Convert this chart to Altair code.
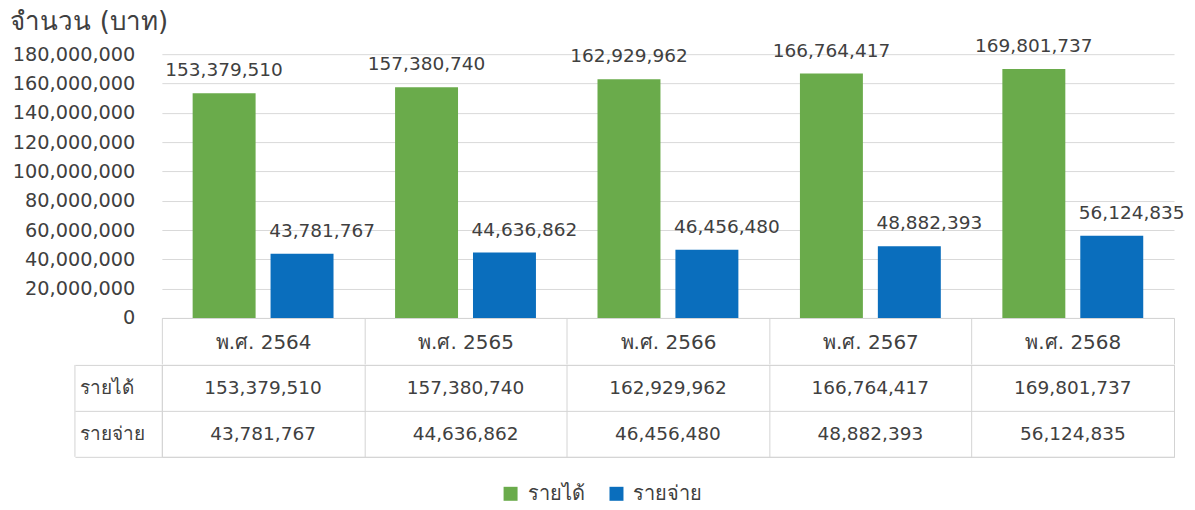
import altair as alt
import pandas as pd

years = ["พ.ศ. 2564", "พ.ศ. 2565", "พ.ศ. 2566", "พ.ศ. 2567", "พ.ศ. 2568"]
series = ["รายได้", "รายจ่าย"]
income = [153379510, 157380740, 162929962, 166764417, 169801737]
expense = [43781767, 44636862, 46456480, 48882393, 56124835]
y_ticks = [0, 20000000, 40000000, 60000000, 80000000, 100000000,
           120000000, 140000000, 160000000, 180000000]
colors = ["#6AAB4B", "#0A6EBD"]

rows = []
for yr, a, b in zip(years, income, expense):
    rows.append({"year": yr, "series": series[0], "value": a})
    rows.append({"year": yr, "series": series[1], "value": b})
df = pd.DataFrame(rows)

FONT = "DejaVu Sans"
TXT = "#404040"
LINE = "#d4d4d4"

x_enc = alt.X("year:N", sort=years,
              scale=alt.Scale(paddingInner=0, paddingOuter=0),
              axis=alt.Axis(title=None, labelAngle=0, tickBand="extent",
                            tickSize=46, labelPadding=-21,
                            labelBaseline="middle", labelFontSize=20,
                            labelColor=TXT, tickColor=LINE,
                            domainColor=LINE, grid=False))
xo_enc = alt.XOffset("series:N", sort=series,
                     scale=alt.Scale(paddingInner=0.192, paddingOuter=0.395))
y_enc = alt.Y("value:Q", scale=alt.Scale(domain=[0, 180000000]),
              axis=alt.Axis(values=y_ticks, format=",.0f", ticks=False,
                            tickSize=0, domain=False, labelPadding=27,
                            labelFontSize=19.3, labelColor=TXT,
                            gridColor="#d9d9d9",
                            title="จำนวน (บาท)", titleAngle=0,
                            titleAlign="left", titleBaseline="middle",
                            titleX=-152, titleY=-33, titleFontSize=26,
                            titleFontWeight="normal", titleColor=TXT))

base = alt.Chart(df)
bars = base.mark_bar().encode(
    x=x_enc, xOffset=xo_enc, y=y_enc,
    color=alt.Color("series:N", sort=series,
                    scale=alt.Scale(domain=series, range=colors),
                    legend=alt.Legend(title=None, orient="none",
                                      direction="horizontal",
                                      legendX=339, legendY=430,
                                      symbolType="square", symbolSize=196,
                                      symbolStrokeWidth=0, labelFontSize=20,
                                      labelColor=TXT, labelOffset=7,
                                      columnPadding=22))
)
lab_inc = base.transform_filter(alt.datum.series == series[0]).mark_text(
    baseline="middle", dy=-23, fontSize=18.5, color=TXT).encode(
    x=x_enc, xOffset=xo_enc, y=y_enc, text=alt.Text("value:Q", format=",.0f"))
lab_exp = base.transform_filter(alt.datum.series == series[1]).mark_text(
    baseline="middle", dy=-23, dx=20, fontSize=18.5, color=TXT).encode(
    x=x_enc, xOffset=xo_enc, y=y_enc, text=alt.Text("value:Q", format=",.0f"))

top = alt.layer(bars, lab_inc, lab_exp).properties(
    width=1013, height=264, view=alt.ViewBackground(stroke=None))

cells = base.mark_text(fontSize=18.5, color=TXT).encode(
    x=alt.X("year:N", sort=years,
            scale=alt.Scale(paddingInner=0, paddingOuter=0),
            axis=alt.Axis(title=None, labels=False, ticks=False, domain=False,
                          grid=True, tickBand="extent", gridColor=LINE)),
    y=alt.Y("series:N", sort=series,
            scale=alt.Scale(paddingInner=0, paddingOuter=0),
            axis=alt.Axis(title=None, tickBand="extent", tickSize=87,
                          tickColor=LINE, labelAlign="left", labelPadding=-5,
                          labelFontSize=19, labelColor=TXT, domain=False,
                          grid=True, gridColor=LINE)),
    text=alt.Text("value:Q", format=",.0f"),
)
border = alt.Chart(pd.DataFrame({"k": [0]})).mark_rule(color=LINE).encode(
    x=alt.value(-87), y=alt.value(0), y2=alt.value(92))

table = alt.layer(cells, border).properties(
    width=1013, height=92, view=alt.ViewBackground(stroke=LINE))

chart = alt.vconcat(top, table, spacing=-11).properties(
    padding={"left": 10, "top": 8, "right": 10, "bottom": 5}
).configure(font=FONT).configure_view(strokeWidth=1)

chart.save("out.html", embed_options={"renderer": "svg", "actions": False})
